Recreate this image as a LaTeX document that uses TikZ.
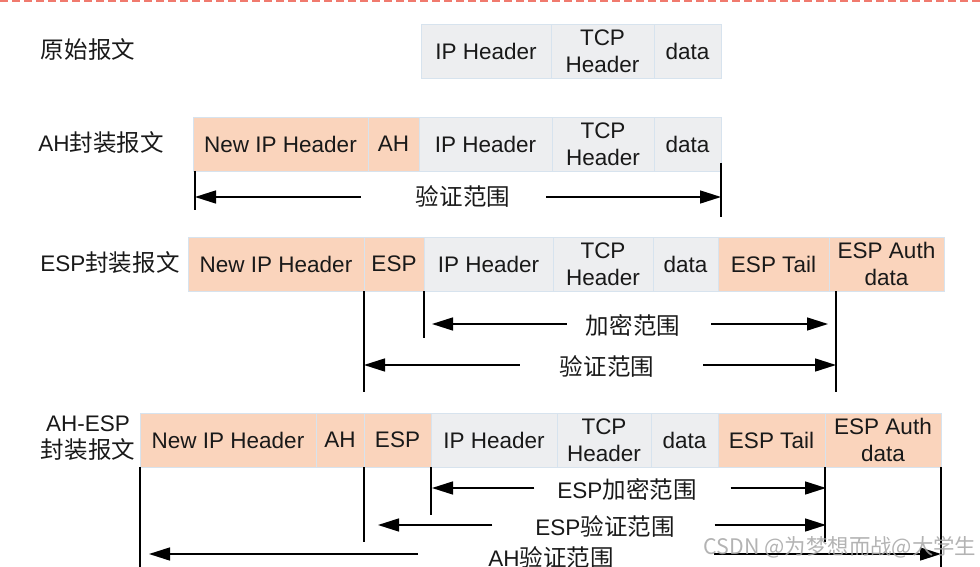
\documentclass[tikz,border=0pt]{standalone}
\usepackage{fontspec}
\setmainfont{Liberation Sans}
\newfontfamily\cjk{Noto Sans CJK SC}[Scale=1.045]
\usepackage{tikz}
\usetikzlibrary{positioning,arrows.meta}
\definecolor{hdfill}{HTML}{FAD4BC}
\definecolor{plfill}{HTML}{EDEEF0}
\definecolor{cellline}{HTML}{D7E3EE}
\definecolor{redline}{HTML}{F07A6E}

\begin{document}
\begin{tikzpicture}[x=1pt,y=-1pt,
  txt/.style={inner sep=0pt,text=black!90,font=\fontsize{22.5pt}{27pt}\selectfont},
  cell/.style={txt,draw=cellline,line width=0.8pt,outer sep=0pt,minimum height=54pt,align=center},
  hd/.style={cell,fill=hdfill},
  pl/.style={cell,fill=plfill},
  tick/.style={line width=2pt},
  rng/.style={line width=1.5pt,-{Triangle[length=21pt,width=13pt]}}]
\useasboundingbox (0,0) rectangle (980,567);
\draw[redline, line width=2pt, dash pattern=on 8pt off 4pt] (0,1) -- (980,1);

% row labels
\node[txt] (l1) at (88,50) {\cjk 原始报文};
\node[txt] (l2) at (101,143) {AH{\cjk 封装报文}};
\node[txt] (l3) at (110,263) {ESP{\cjk 封装报文}};
\node[txt, align=center] (l4) at (88,438.5) {AH-ESP\\{\cjk 封装报文}};

% original packet
\node[pl, minimum width=130pt, anchor=north west] (r1ip) at (421,24) {IP Header};
\node[pl, minimum width=103pt, right=0pt of r1ip] (r1tcp) {TCP\\Header};
\node[pl, minimum width=67pt, right=0pt of r1tcp] (r1data) {data};

% AH
\node[hd, minimum width=175pt, anchor=north west] (r2new) at (193,117) {New IP Header};
\node[hd, minimum width=51pt, right=0pt of r2new] (r2ah) {AH};
\node[pl, minimum width=133pt, right=0pt of r2ah] (r2ip) {IP Header};
\node[pl, minimum width=102pt, right=0pt of r2ip] (r2tcp) {TCP\\Header};
\node[pl, minimum width=67pt, right=0pt of r2tcp] (r2data) {data};

\draw[tick] ([xshift=2pt]r2new.south west) -- ++(0,39);
\draw[tick] ([yshift=8pt]r2data.south east) -- ++(0,54);
\coordinate (r2L) at (195,197);
\coordinate (r2R) at (721,197);
\node[txt] (r2rng) at (463,196) {\cjk 验证范围};
\draw[rng] ([xshift=-55pt]r2rng.west |- r2L) -- (r2L);
\draw[rng] ([xshift=36pt]r2rng.east |- r2R) -- (r2R);

% ESP
\node[hd, minimum width=176pt, anchor=north west] (r3new) at (188,237) {New IP Header};
\node[hd, minimum width=60pt, right=0pt of r3new] (r3esp) {ESP};
\node[pl, minimum width=129pt, right=0pt of r3esp] (r3ip) {IP Header};
\node[pl, minimum width=100pt, right=0pt of r3ip] (r3tcp) {TCP\\Header};
\node[pl, minimum width=65pt, right=0pt of r3tcp] (r3data) {data};
\node[hd, minimum width=111pt, right=0pt of r3data] (r3tail) {ESP Tail};
\node[hd, minimum width=115pt, right=0pt of r3tail] (r3auth) {ESP Auth\\data};

\draw[tick] (r3ip.south west) -- ++(0,47);
\draw[tick] (r3esp.south west) -- ++(0,101);
\draw[tick] ([xshift=7pt]r3auth.south west) -- ++(0,101);
\coordinate (r3encL) at (432,324);
\coordinate (r3encR) at (828,324);
\coordinate (r3verL) at (364,365);
\coordinate (r3verR) at (836,365);
\node[txt] (r3enc) at (633,325) {\cjk 加密范围};
\node[txt] (r3ver) at (607,366) {\cjk 验证范围};
\draw[rng] ([xshift=-19pt]r3enc.west |- r3encL) -- (r3encL);
\draw[rng] ([xshift=31pt]r3enc.east |- r3encR) -- (r3encR);
\draw[rng] ([xshift=-40pt]r3ver.west |- r3verL) -- (r3verL);
\draw[rng] ([xshift=49pt]r3ver.east |- r3verR) -- (r3verR);

% AH-ESP
\node[hd, minimum width=176pt, anchor=north west] (r4new) at (140,413) {New IP Header};
\node[hd, minimum width=48pt, right=0pt of r4new] (r4ah) {AH};
\node[hd, minimum width=67pt, right=0pt of r4ah] (r4esp) {ESP};
\node[pl, minimum width=126pt, right=0pt of r4esp] (r4ip) {IP Header};
\node[pl, minimum width=94pt, right=0pt of r4ip] (r4tcp) {TCP\\Header};
\node[pl, minimum width=67pt, right=0pt of r4tcp] (r4data) {data};
\node[hd, minimum width=107pt, right=0pt of r4data] (r4tail) {ESP Tail};
\node[hd, minimum width=116pt, right=0pt of r4tail] (r4auth) {ESP Auth\\data};

\draw[tick] (r4new.south west) -- ++(0,110);
\draw[tick] (r4esp.south west) -- ++(0,75);
\draw[tick] (r4ip.south west) -- ++(0,48);
\draw[tick] (r4auth.south west) -- ++(0,75);
\draw[tick] (r4auth.south east) -- ++(0,110);
\coordinate (r4encL) at (432,488);
\coordinate (r4encR) at (826,488);
\coordinate (r4verL) at (378,525);
\coordinate (r4verR) at (826,525);
\coordinate (r4ahL) at (149,554);
\coordinate (r4ahR) at (941,554);
\node[txt] (r4enc) at (627,489) {ESP{\cjk 加密范围}};
\node[txt] (r4ver) at (605,526) {ESP{\cjk 验证范围}};
\node[txt] (r4rng) at (551,557) {AH{\cjk 验证范围}};
\draw[rng] ([xshift=-23pt]r4enc.west |- r4encL) -- (r4encL);
\draw[rng] ([xshift=34pt]r4enc.east |- r4encR) -- (r4encR);
\draw[rng] ([xshift=-43pt]r4ver.west |- r4verL) -- (r4verL);
\draw[rng] ([xshift=40pt]r4ver.east |- r4verR) -- (r4verR);
\draw[rng] ([xshift=-70pt]r4rng.west |- r4ahL) -- (r4ahL);
\draw[rng] ([xshift=100pt]r4rng.east |- r4ahR) -- (r4ahR);

% watermark
\node[txt, text=gray!70, opacity=0.85, font=\fontsize{20.5pt}{24pt}\selectfont\cjk] (mark) at (840,547) {CSDN @为梦想而战@大学生};
\end{tikzpicture}
\end{document}
